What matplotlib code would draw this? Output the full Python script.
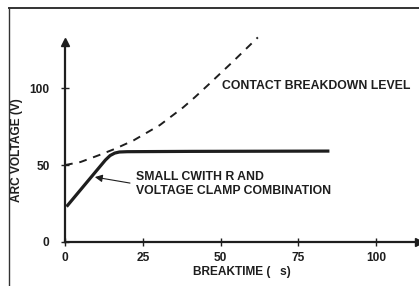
import matplotlib
matplotlib.use("Agg")
import matplotlib.pyplot as plt
from matplotlib.lines import Line2D

plt.rcParams['font.family'] = ['Liberation Sans', 'DejaVu Sans']
plt.rcParams['font.weight'] = 'bold'

# clamped arc voltage (solid)
clamp_x = [0.5, 4, 8, 13, 14.5, 16, 17.5, 20, 40, 85]
clamp_v = [23, 31.5, 41.2, 53.3, 56.2, 57.8, 58.5, 58.7, 58.9, 59.1]

# contact breakdown level (dashed)
brk_x = [0, 5, 11, 16, 22, 30.5, 38, 41.8, 45.6, 54, 62]
brk_v = [50, 52, 56.5, 60.5, 66, 76, 87.5, 94.2, 101.3, 117.3, 133]

xticks = [0, 25, 50, 75, 100]
yticks = [0, 50, 100]

W, H = 419, 286
fig = plt.figure(figsize=(W / 100, H / 100), dpi=100)
ax = fig.add_axes([65 / W, 44 / H, 354 / W, 200 / H])
ax.set_xlim(0, 113.8)
ax.set_ylim(0, 130)

dark = '#1e1e1e'
ax.plot(clamp_x, clamp_v, color=dark, lw=2.3, solid_capstyle='butt')
ax.plot(brk_x, brk_v, color=dark, lw=1.4, dashes=(4, 3.5), clip_on=False)

for s in ['top', 'right']:
    ax.spines[s].set_visible(False)
for s in ['left', 'bottom']:
    ax.spines[s].set_linewidth(1.6)
    ax.spines[s].set_color(dark)

# arrow heads on the axes
ax.plot(1, 0, '>', color=dark, ms=6, transform=ax.transAxes, clip_on=False)
ax.plot(0, 1, '^', color=dark, ms=6, transform=ax.transAxes, clip_on=False)

ax.set_xticks(xticks)
ax.set_yticks(yticks)
ax.tick_params(direction='inout', length=6, width=1, color=dark,
               labelsize=8.6, labelcolor=dark)
ax.tick_params(axis='x', pad=4)
ax.tick_params(axis='y', pad=8)

ax.text(57, -19.5, 'BREAKTIME (   s)', ha='center', va='center',
        fontsize=8.6, color=dark, clip_on=False)
ax.text(-15.4, 60, 'ARC VOLTAGE (V)', ha='center', va='center',
        rotation=90, fontsize=8.6, color=dark, clip_on=False)

ax.text(50.5, 101.3, 'CONTACT BREAKDOWN LEVEL', ha='left', va='center',
        fontsize=8.8, color=dark)
ax.text(22.8, 42.2, 'SMALL CWITH R AND', ha='left', va='center',
        fontsize=8.8, color=dark)
ax.text(22.8, 33.1, 'VOLTAGE CLAMP COMBINATION', ha='left', va='center',
        fontsize=8.8, color=dark)
ax.annotate('', xy=(9.6, 42.2), xytext=(20.9, 38.3),
            arrowprops=dict(arrowstyle='-|>', color=dark, lw=0.8,
                            mutation_scale=11, shrinkA=0, shrinkB=0))

# frame around the figure (cut at right and bottom)
fig.add_artist(Line2D([9 / W, 9 / W], [0, 1 - 8 / H], color='#333333', lw=1.0))
fig.add_artist(Line2D([9 / W, 1], [1 - 8 / H, 1 - 8 / H], color='#333333', lw=1.4))

fig.savefig('out.png', dpi=100)
